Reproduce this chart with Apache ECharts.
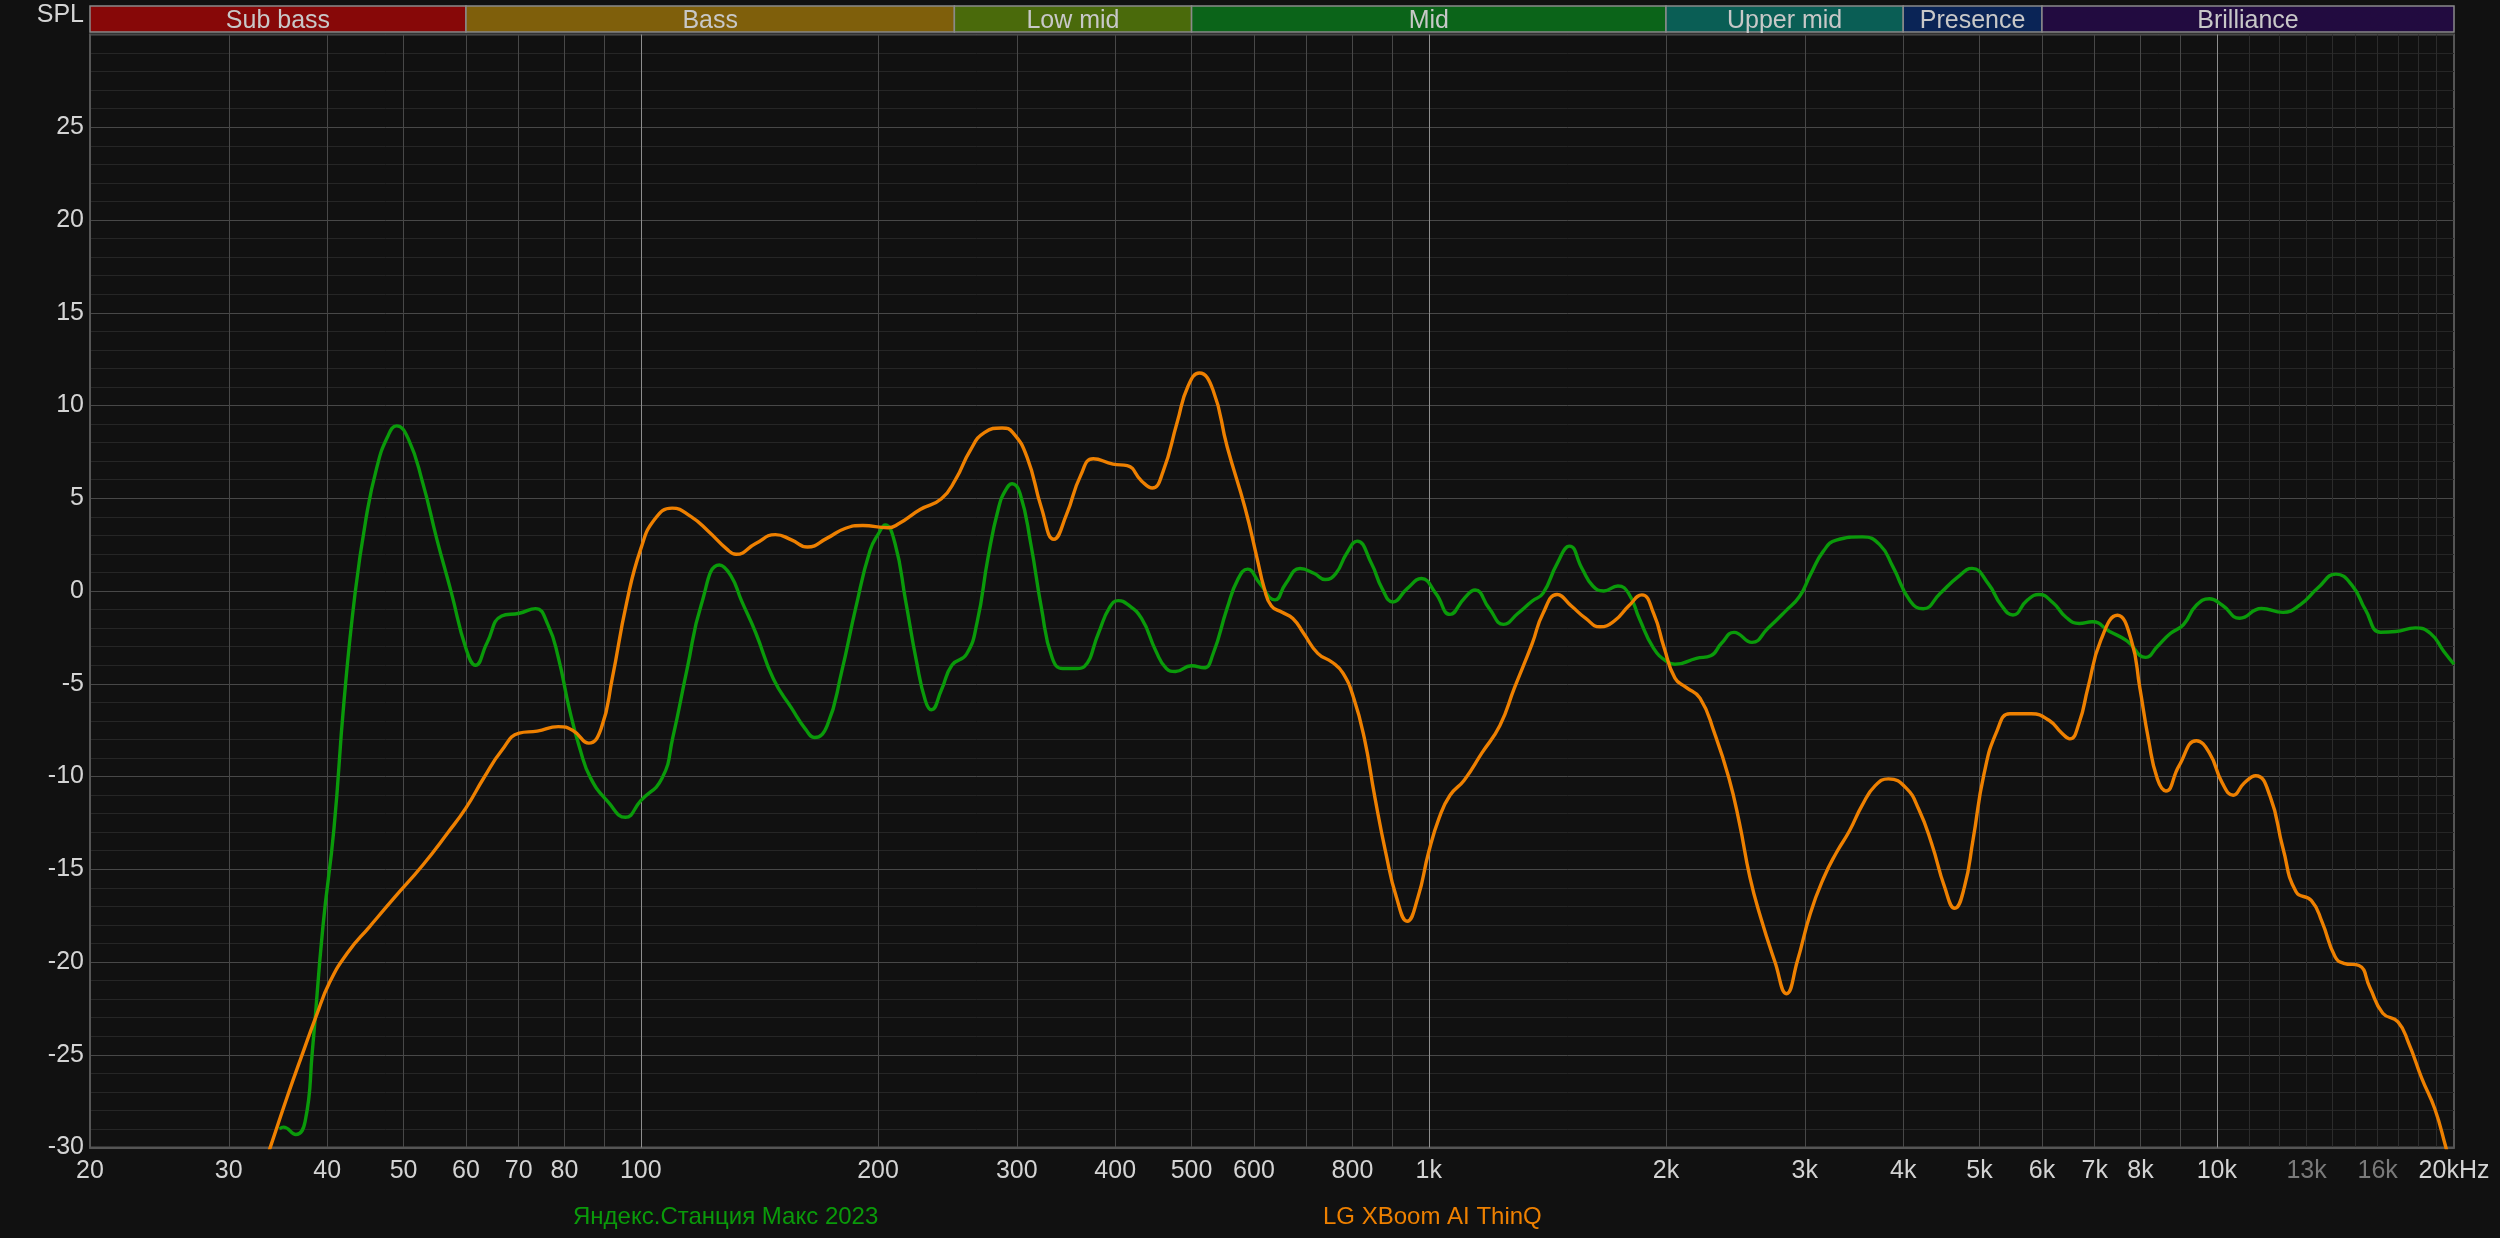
<!DOCTYPE html>
<html><head><meta charset="utf-8">
<script src="https://cdn.jsdelivr.net/npm/echarts@6/dist/echarts.min.js"></script>
<style>html,body{margin:0;padding:0;background:#111111;} #c{width:2500px;height:1238px;}</style>
</head><body><div id="c"></div>
<script>
// ---- Data ----
const yandexName = 'Яндекс.Станция Макс 2023';
const lgName = 'LG XBoom AI ThinQ';

const yandexFreq = [34.8,35.2,36.5,37.5,38.3,39.5,40.8,42.0,43.4,44.8,
  46.2,47.7,49.0,50.7,52.9,55.1,57.5,60.0,61.7,63.8,
  66.6,70.1,73.5,76.2,78.6,81.1,83.7,86.4,91.0,95.6,
  100,106.4,109.8,114.5,119.4,125.8,130.1,134.2,139.9,147.4,
  155.3,161.9,166.2,172.4,179.8,187.4,195.4,200.6,204.2,210.2,
  216.8,223.8,229.7,233.8,240.7,248.3,259.0,267.2,275.8,284.5,
  290.5,296.0,302.9,312.5,322.4,332.7,343.2,357.8,365.4,381.1,
  393.2,403.6,414.3,432.0,450.3,464.5,476.9,499.8,518.4,532.2,
  554.9,572.6,588.9,609.6,638,658.4,686.4,715.8,738.6,762,
  786.2,811,845.8,872.6,900.4,938.8,978.8,1020.6,1064,1109,
  1145,1193,1244,1297,1353,1396,1455,1509,1565,1615,
  1667,1738,1793,1850,1929,2011,2053,2186,2279,2352,
  2440,2571,2694,2838,2954,3049,3168,3290,3550,3734,
  3879,4082,4240,4458,4690,4892,5128,5328,5512,5748,
  5948,6202,6442,6690,6950,7312,7692,8124,8406,8730,
  9070,9420,9786,10164,10692,11392,12134,12768,13432,14162,
  14864,15438,16140,16870,17862,18676,19396,20000];
const yandexSpl = [-29.0,-28.9,-29.3,-28.6,-24.8,-18.1,-12.8,-6.0,-0.1,3.9,
  6.6,8.3,8.9,8.2,5.8,2.8,-0.1,-3.1,-4.0,-2.8,
  -1.35,-1.2,-0.95,-1.8,-3.6,-6.3,-8.5,-10.1,-11.4,-12.2,
  -11.3,-10.1,-7.9,-4.2,-0.7,1.4,0.83,-0.52,-2.25,-4.76,
  -6.3,-7.46,-7.9,-7.26,-4.37,-0.91,2.18,3.14,3.56,2.56,
  -0.52,-3.79,-5.91,-6.4,-5.34,-3.99,-3.41,-1.68,1.79,4.49,
  5.45,5.78,5.26,2.56,-0.91,-3.6,-4.18,-4.18,-4.08,-2.25,
  -0.91,-0.52,-0.71,-1.48,-3.22,-4.18,-4.34,-4.03,-4.14,-3.41,
  -0.91,0.64,1.18,0.44,-0.48,0.40,1.21,0.94,0.62,0.94,
  2.01,2.69,1.48,0.13,-0.59,0.13,0.67,-0.13,-1.26,-0.40,
  0.05,-0.94,-1.80,-1.21,-0.54,-0.13,1.48,2.42,1.21,0.27,
  0,0.27,-0.13,-1.48,-3.09,-3.84,-3.95,-3.63,-3.49,-2.82,
  -2.23,-2.77,-2.01,-1.07,-0.30,0.87,2.15,2.74,2.92,2.50,
  1.33,-0.54,-0.96,-0.12,0.75,1.22,0.40,-0.77,-1.29,-0.49,
  -0.19,-0.65,-1.43,-1.75,-1.66,-2.18,-2.69,-3.58,-2.99,-2.29,
  -1.82,-0.77,-0.42,-0.77,-1.47,-0.94,-1.15,-0.73,0.16,0.91,
  0.28,-1.01,-2.22,-2.18,-1.99,-2.29,-3.23,-3.95];

const lgFreq = [32.5,33.9,35.6,37.1,38.7,40.3,42.5,45.2,48.7,52.9,
  56.9,60.0,63.2,66.6,70.1,73.9,78.6,82.0,85.9,89.1,
  92.0,95.9,100,104.2,109.6,115.7,121.9,128.5,132.1,139.9,
  148.2,155.3,162.7,172.4,181.6,191.3,205.8,212.4,226.2,240.7,
  251.0,261.8,272.9,287.5,296.6,309.3,322.4,334.4,346.8,361.5,
  375.2,397.4,414.3,432.0,445.7,459.9,479.5,494.8,511.5,532.2,
  554.9,584.5,605.6,618.4,631.4,651.4,672.2,693.6,723.0,754.0,
  778.2,803,828.2,854.4,881.8,909.8,938.8,968.8,999.4,1031,
  1064,1109,1168,1231,1284,1353,1396,1455,1517,1582,
  1649,1720,1793,1864,1929,1990,2053,2119,2209,2304,
  2403,2478,2556,2637,2750,2844,2936,3049,3168,3290,
  3418,3550,3688,3830,4030,4186,4348,4516,4650,4782,
  4906,5064,5260,5464,5818,6124,6360,6508,6690,6862,
  7128,7480,7788,7986,8192,8406,8618,8954,9420,9786,
  10164,10492,10828,11206,11684,12134,12606,13178,13604,14130,
  14492,15150,15636,16242,16980,17528,18204,18908,19522,20000];
const lgSpl = [-32.2,-29.94,-27.25,-25.1,-22.96,-21.08,-19.47,-18.13,-16.52,-14.77,
  -13.03,-11.69,-10.08,-8.60,-7.66,-7.55,-7.31,-7.52,-8.20,-7.39,
  -4.71,-0.68,2.27,3.88,4.47,4.02,3.21,2.27,1.98,2.56,
  3.04,2.76,2.37,2.85,3.37,3.53,3.41,3.62,4.39,4.97,
  6.03,7.57,8.54,8.79,8.54,7.19,4.49,2.79,4.10,6.22,
  7.13,6.84,6.76,5.93,5.55,6.42,9.11,11.04,11.75,10.85,
  7.76,4.49,1.75,0.13,-0.81,-1.15,-1.48,-2.28,-3.36,-3.84,
  -4.43,-5.77,-7.92,-11.14,-14.10,-16.51,-17.80,-16.51,-14.10,-12.22,
  -11.01,-10.20,-8.73,-7.25,-5.24,-2.82,-1.21,-0.19,-0.81,-1.48,
  -1.93,-1.61,-0.81,-0.21,-1.21,-3.09,-4.70,-5.18,-5.77,-7.65,
  -10.07,-12.49,-15.44,-17.59,-20.0,-21.71,-19.95,-17.38,-15.50,-14.11,
  -12.94,-11.53,-10.48,-10.13,-10.60,-11.77,-13.64,-15.98,-17.10,-15.98,
  -13.40,-9.89,-7.55,-6.62,-6.62,-6.97,-7.67,-7.97,-7.09,-5.22,
  -2.64,-1.31,-2.64,-5.22,-8.02,-10.13,-10.78,-9.43,-8.07,-8.73,
  -10.36,-11.01,-10.36,-9.96,-11.06,-13.87,-16.21,-16.68,-17.85,-19.72,
  -20.07,-20.19,-21.36,-22.76,-23.23,-24.40,-26.27,-27.91,-29.96,-31.6];

// axis ticks / labels
const labelFreqs = [20,30,40,50,60,70,80,100,200,300,400,500,600,800,1000,2000,3000,4000,5000,6000,7000,8000,10000,13000,16000,20000];
const labelTexts = ['20','30','40','50','60','70','80','100','200','300','400','500','600','800','1k','2k','3k','4k','5k','6k','7k','8k','10k','13k','16k','20kHz'];
const dimLabels = ['13k','16k'];
const gridMajorFreqs = [30,40,50,60,70,80,90,200,300,400,500,600,700,800,900,2000,3000,4000,5000,6000,7000,8000,9000];
const gridDecadeFreqs = [100,1000,10000];
const gridMinorFreqs = [11000,12000,13000,14000,15000,16000,17000,18000,19000];

// frequency bands
const bandNames = ['Sub bass','Bass','Low mid','Mid','Upper mid','Presence','Brilliance'];
const bandStart = [20,60,250,500,2000,4000,6000];
const bandEnd = [60,250,500,2000,4000,6000,20000];
const bandColors = ['#870808','#7f5f0b','#4a6a0b','#0b6419','#0a5e55','#0a2456','#220b40'];

// ---- Chart ----
const FONT = '"Liberation Sans", Arial, sans-serif';
const GREEN = '#0a9a0a';
const ORANGE = '#ee8000';
function labelIndex(v) {
  let best = 0, bd = Infinity;
  labelFreqs.forEach((f, i) => { const d = Math.abs(Math.log(v / f)); if (d < bd) { bd = d; best = i; } });
  return best;
}
const pair = (fs, vs) => fs.map((f, i) => [f, vs[i]]);

const GRID = { left: 90, right: 46, top: 34.5, bottom: 90.5 };
const hiddenLogAxis = (vals, color, z) => ({
  type: 'log', logBase: 10, min: 20, max: 20000, gridIndex: 0,
  axisLine: { show: false, onZero: false }, axisLabel: { show: false },
  axisTick: { show: false, customValues: vals },
  splitLine: { show: true, lineStyle: { color: color, width: 1 } },
  z: z
});

const chart = echarts.init(document.getElementById('c'), null, { renderer: 'canvas' });
chart.setOption({
  animation: false,
  backgroundColor: '#111111',
  textStyle: { fontFamily: FONT },
  grid: [
    Object.assign({ show: true, borderColor: '#555555', borderWidth: 2, backgroundColor: 'transparent' }, GRID),
    { left: 90, right: 46, top: 6, height: 26 }
  ],
  xAxis: [
    {
      type: 'log', logBase: 10, min: 20, max: 20000, gridIndex: 0, position: 'bottom',
      axisLine: { show: true, onZero: false, lineStyle: { color: '#555555', width: 2 } },
      axisTick: { show: false, customValues: gridMajorFreqs },
      splitLine: { show: true, lineStyle: { color: '#484848', width: 1 } },
      axisLabel: {
        customValues: labelFreqs,
        margin: 11, fontSize: 25, fontFamily: FONT,
        formatter: (v) => labelTexts[labelIndex(v)],
        color: (v) => dimLabels.indexOf(labelTexts[labelIndex(v)]) >= 0 ? '#7a7a7a' : '#d4d4d4'
      }
    },
    hiddenLogAxis(gridDecadeFreqs, '#8e8e8e', 1),
    hiddenLogAxis(gridMinorFreqs, '#2c2c2c', 0),
    { type: 'log', logBase: 10, min: 20, max: 20000, gridIndex: 1, show: false }
  ],
  yAxis: [
    {
      type: 'value', min: -30, max: 30, interval: 5, gridIndex: 0,
      name: 'SPL', nameLocation: 'end', nameGap: 19,
      nameTextStyle: { fontSize: 25, color: '#d4d4d4', align: 'right', verticalAlign: 'middle', padding: [0, 6, 0, 0], fontFamily: FONT },
      axisLine: { show: true, onZero: false, lineStyle: { color: '#555555', width: 2 } },
      axisTick: { show: false },
      axisLabel: { fontSize: 25, color: '#d4d4d4', margin: 6, fontFamily: FONT, formatter: (v) => v === 30 ? '' : String(v) },
      splitLine: { show: true, lineStyle: { color: '#484848', width: 1 } },
      minorTick: { show: false, splitNumber: 5 },
      minorSplitLine: { show: true, lineStyle: { color: '#262626', width: 1 } }
    },
    { type: 'value', min: 0, max: 1, gridIndex: 1, show: false }
  ],
  legend: [
    { data: [{ name: yandexName, textStyle: { color: GREEN } }], left: 563, top: 1200, icon: 'none', itemWidth: 0, itemHeight: 24,
      textStyle: { fontSize: 24, fontFamily: FONT }, selectedMode: false },
    { data: [{ name: lgName, textStyle: { color: ORANGE } }], left: 1313, top: 1200, icon: 'none', itemWidth: 0, itemHeight: 24,
      textStyle: { fontSize: 24, fontFamily: FONT }, selectedMode: false }
  ],
  series: [
    {
      name: 'bands', type: 'custom', xAxisIndex: 3, yAxisIndex: 1, silent: true, clip: false,
      data: bandNames.map((n, i) => [bandStart[i], bandEnd[i]]),
      encode: { x: [0, 1] },
      renderItem: (params, api) => {
        const i = params.dataIndex;
        const p0 = api.coord([api.value(0), 1]);
        const p1 = api.coord([api.value(1), 0]);
        return {
          type: 'group', children: [
            { type: 'rect', shape: { x: p0[0], y: p0[1], width: p1[0] - p0[0], height: p1[1] - p0[1] },
              style: { fill: bandColors[i], stroke: '#8a8a8a', lineWidth: 1.5 } },
            { type: 'text', style: { text: bandNames[i], x: (p0[0] + p1[0]) / 2, y: (p0[1] + p1[1]) / 2 + 2,
              align: 'center', verticalAlign: 'middle', fill: '#c8c8c8', font: '25px ' + FONT } }
          ]
        };
      }
    },
    {
      name: yandexName, type: 'line', xAxisIndex: 0, yAxisIndex: 0,
      data: pair(yandexFreq, yandexSpl), showSymbol: false, symbol: 'none', smooth: 0.5,
      lineStyle: { color: GREEN, width: 3.4 }, itemStyle: { color: GREEN }, clip: true, z: 3
    },
    {
      name: lgName, type: 'line', xAxisIndex: 0, yAxisIndex: 0,
      data: pair(lgFreq, lgSpl), showSymbol: false, symbol: 'none', smooth: 0.5,
      lineStyle: { color: ORANGE, width: 3.4 }, itemStyle: { color: ORANGE }, clip: true, z: 4
    }
  ]
});
</script></body></html>
